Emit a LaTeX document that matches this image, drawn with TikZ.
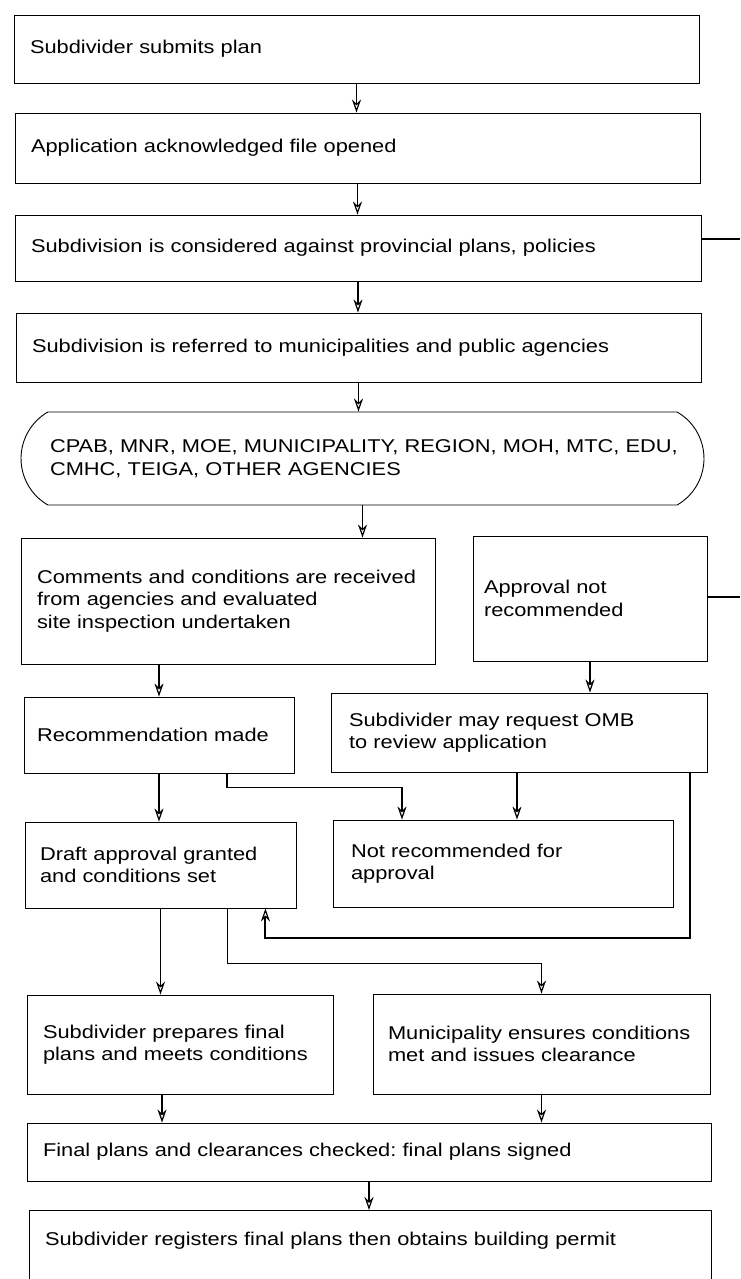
\documentclass[tikz,border=0pt]{standalone}
\usepackage{fontspec}
\setmainfont[FakeStretch=1.18]{Liberation Sans}
\usetikzlibrary{arrows.meta,shapes.misc}
\frenchspacing
\begin{document}
\begin{tikzpicture}[x=1pt, y=-1pt,
  main/.style = {draw, rectangle, line width=0.9pt, align=left, inner xsep=16pt, inner ysep=0pt, font=\fontsize{18.5}{22.5}\selectfont},
  link/.style = {line width=1.5pt, -{Stealth[open, length=13pt, width=9pt, line width=1.2pt]}},
  heavy/.style = {link, line width=2.6pt}]
\useasboundingbox (0,0) rectangle (740,1279);

\node[main, text width=653pt, minimum height=68pt] (1) at (356.5,49) {Subdivider submits plan};
\node[main, text width=653pt, minimum height=70pt] (2) at (357.5,148) {Application acknowledged file opened};
\node[main, text width=654pt, minimum height=66pt] (3) at (358,248) {Subdivision is considered against provincial plans, policies};
\node[main, text width=653pt, minimum height=69pt] (4) at (358.5,347.5) {Subdivision is referred to municipalities and public agencies};
\node[main, rounded rectangle, rounded rectangle arc length=120, inner xsep=0pt, text width=625pt, minimum width=683pt, minimum height=93pt] (5) at (362.5,458.5) {\mbox{CPAB, MNR, MOE, MUNICIPALITY, REGION, MOH, MTC, EDU,}\\ CMHC, TEIGA, OTHER AGENCIES};
\node[main, text width=382pt, minimum height=126pt] (6) at (228,601) {Comments and conditions are received\\ from agencies and evaluated\\ site inspection undertaken};
\node[main, inner xsep=11pt, text width=212pt, minimum height=125pt] (7) at (590,598.5) {Approval not\\ recommended};
\node[main, inner xsep=13pt, text width=244pt, minimum height=76pt] (8) at (159,735) {Recommendation made};
\node[main, inner xsep=18pt, text width=340pt, minimum height=79pt] (9) at (519,732.5) {Subdivider may request OMB\\ to review application};
\node[main, inner xsep=15pt, text width=241pt, minimum height=86pt] (10) at (160.5,865) {Draft approval granted\\ and conditions set};
\node[main, inner xsep=18pt, text width=304pt, minimum height=87pt] (11) at (503,863.5) {Not recommended for\\ approval};
\node[main, text width=274pt, minimum height=99pt] (12) at (180,1044.5) {Subdivider prepares final\\ plans and meets conditions};
\node[main, inner xsep=15pt, text width=307pt, minimum height=100pt] (13) at (541.5,1044) {Municipality ensures conditions\\ met and issues clearance};
\node[main, text width=652pt, minimum height=58pt] (14) at (369,1152) {Final plans and clearances checked: final plans signed};
\node[main, anchor=north, text width=650pt, minimum height=100pt, text depth=44pt] (15) at (370,1210) {Subdivider registers final plans then obtains building permit};

\coordinate (e1) at (740,239);
\coordinate (e2) at (740,597);

\draw[link] (1.south) -- (1.south |- 2.north);
\draw[link] (2.south) -- (2.south |- 3.north);
\draw[link] (3.south) -- (3.south |- 4.north);
\draw[link] (4.south) -- (4.south |- 5.north);
\draw[link] (5.south) -- (5.south |- 6.north);
\draw[link] (8.north |- 6.south) -- (8.north);
\draw[heavy] (7.south) -- (7.south |- 9.north);
\draw[link] (8.south) -- (8.south |- 10.north);
\draw[link] ([xshift=68pt]8.south) -- ++(0,14) -| ([xshift=-101pt]11.north);
\draw[heavy] ([xshift=-2pt]9.south) -- ([xshift=-2pt]9.south |- 11.north);
\draw[link, line width=2pt] ([xshift=-17pt]9.south east) -- ++(0,166) -| ([xshift=-31pt]10.south east);
\draw[link] (10.south) -- (10.south |- 12.north);
\draw[link] ([xshift=67pt]10.south) -- ++(0,55) -| (13.north);
\draw[link] ([xshift=-18pt]12.south) -- ([xshift=-18pt]12.south |- 14.north);
\draw[link] (13.south) -- (13.south |- 14.north);
\draw[link] (14.south) -- (14.south |- 15.north);
\draw[line width=2.4pt] (3.east |- e1) -- (e1);
\draw[line width=2.4pt] (7.east |- e2) -- (e2);
\end{tikzpicture}
\end{document}
